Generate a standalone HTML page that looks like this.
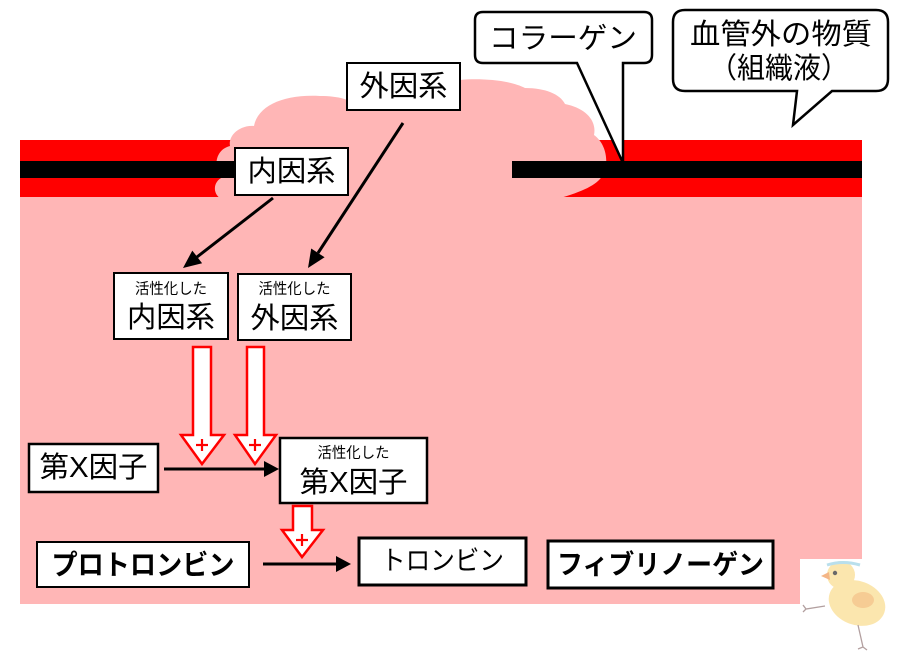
<!DOCTYPE html>
<html><head><meta charset="utf-8"><style>
html,body{margin:0;padding:0;background:#fff;width:900px;height:665px;overflow:hidden}
svg{display:block}
text{font-family:"Liberation Sans","Noto Sans CJK JP",sans-serif;fill:#000}
</style></head><body>
<svg width="900" height="665" viewBox="0 0 900 665" xmlns="http://www.w3.org/2000/svg">
<rect x="0" y="0" width="900" height="665" fill="#fff"/>
<!-- vessel walls -->
<rect x="20" y="140" width="215" height="57" fill="#ff0000"/>
<rect x="520" y="140" width="342" height="57" fill="#ff0000"/>
<!-- pink body -->
<rect x="20" y="197" width="842" height="407" fill="#ffb6b6"/>
<!-- cloud -->
<path fill="#ffb6b6" d="M228 201
C212 199, 211 182, 223 177
C213 170, 214 150, 230 146
C228 135, 240 125, 254 126
C258 105, 285 94, 320 96
C340 96, 350 100, 355 105
L355 80 L460 80
C480 78, 510 80, 525 88
C545 88, 560 94, 565 104
C585 108, 597 120, 594 135
C608 145, 610 168, 600 179
C592 188, 575 194, 550 201 Z"/>
<!-- black stripes -->
<rect x="20" y="161" width="220" height="17" fill="#000"/>
<rect x="512" y="161" width="350" height="17" fill="#000"/>

<!-- callouts -->
<path d="M483 12 H644 Q652 12 652 20 V55 Q652 63 644 63 H623 L623 163 L577 63 H483 Q475 63 475 55 V20 Q475 12 483 12 Z" fill="#fff" stroke="#000" stroke-width="2.5" stroke-linejoin="miter"/>
<text x="563" y="39" font-size="29" text-anchor="middle" dominant-baseline="central" textLength="148" lengthAdjust="spacingAndGlyphs">コラーゲン</text>
<path d="M685 10 H876 Q888 10 888 22 V79 Q888 91 876 91 H832 L793 125 L797 91 H685 Q673 91 673 79 V22 Q673 10 685 10 Z" fill="#fff" stroke="#000" stroke-width="2.5"/>
<text x="781" y="35" font-size="29" text-anchor="middle" dominant-baseline="central" textLength="182" lengthAdjust="spacingAndGlyphs">血管外の物質</text>
<text x="779" y="69" font-size="29" text-anchor="middle" dominant-baseline="central" textLength="140" lengthAdjust="spacingAndGlyphs">（組織液）</text>

<!-- 外因系 / 内因系 -->
<rect x="347" y="63" width="113" height="47" fill="#fff" stroke="#000" stroke-width="2"/>
<text x="403.5" y="87" font-size="29" text-anchor="middle" dominant-baseline="central" textLength="88" lengthAdjust="spacingAndGlyphs">外因系</text>
<rect x="235" y="148" width="113" height="47" fill="#fff" stroke="#000" stroke-width="2"/>
<text x="291.5" y="172" font-size="29" text-anchor="middle" dominant-baseline="central" textLength="88" lengthAdjust="spacingAndGlyphs">内因系</text>

<!-- diagonal arrows -->
<line x1="273" y1="198" x2="197" y2="257" stroke="#000" stroke-width="3"/>
<polygon points="183,268 202.1,263.2 192.3,250.6" fill="#000"/>
<line x1="403" y1="123" x2="318" y2="253" stroke="#000" stroke-width="3"/>
<polygon points="308,268 324.6,257.3 311.2,248.5" fill="#000"/>

<!-- activated boxes -->
<rect x="114" y="273" width="114" height="66" fill="#fff" stroke="#000" stroke-width="2"/>
<text x="171" y="289" font-size="15" text-anchor="middle" dominant-baseline="central" textLength="72" lengthAdjust="spacingAndGlyphs">活性化した</text>
<text x="171" y="318" font-size="29" text-anchor="middle" dominant-baseline="central" textLength="88" lengthAdjust="spacingAndGlyphs">内因系</text>
<rect x="238" y="274" width="113" height="66" fill="#fff" stroke="#000" stroke-width="2"/>
<text x="294.5" y="289" font-size="15" text-anchor="middle" dominant-baseline="central" textLength="72" lengthAdjust="spacingAndGlyphs">活性化した</text>
<text x="294.5" y="319" font-size="29" text-anchor="middle" dominant-baseline="central" textLength="88" lengthAdjust="spacingAndGlyphs">外因系</text>

<!-- 第X因子 -->
<rect x="29" y="444" width="129" height="48" fill="#fff" stroke="#000" stroke-width="2.5"/>
<text x="93.5" y="468" font-size="29" text-anchor="middle" dominant-baseline="central" textLength="108" lengthAdjust="spacingAndGlyphs">第X因子</text>
<line x1="164" y1="469" x2="266" y2="469" stroke="#000" stroke-width="3"/>
<polygon points="279,469 264,461 264,477" fill="#000"/>
<rect x="280" y="438" width="147" height="65" fill="#fff" stroke="#000" stroke-width="2.5"/>
<text x="353.5" y="453" font-size="15" text-anchor="middle" dominant-baseline="central" textLength="72" lengthAdjust="spacingAndGlyphs">活性化した</text>
<text x="353.5" y="483" font-size="29" text-anchor="middle" dominant-baseline="central" textLength="108" lengthAdjust="spacingAndGlyphs">第X因子</text>

<!-- hollow red arrows -->
<g fill="#fff" stroke="#ff0000" stroke-width="2.5" stroke-linejoin="miter">
<polygon points="193,347 211,347 211,435 224,435 202,464 181,435 193,435"/>
<polygon points="247,347 264,347 264,435 276,435 255,464 235,435 247,435"/>
<polygon points="293,506 312,506 312,530 323,530 302,557 282,530 293,530"/>
</g>
<g stroke="#ff0000" stroke-width="2.2">
<line x1="196" y1="445" x2="208" y2="445"/><line x1="202" y1="439" x2="202" y2="451"/>
<line x1="249" y1="445" x2="261" y2="445"/><line x1="255" y1="439" x2="255" y2="451"/>
<line x1="296" y1="540" x2="308" y2="540"/><line x1="302" y1="534" x2="302" y2="546"/>
</g>

<!-- bottom row -->
<rect x="37" y="542" width="212" height="45" fill="#fff" stroke="#000" stroke-width="2"/>
<text x="143" y="565" font-size="28" font-weight="bold" text-anchor="middle" dominant-baseline="central" textLength="183" lengthAdjust="spacingAndGlyphs">プロトロンビン</text>
<line x1="263" y1="564" x2="338" y2="564" stroke="#000" stroke-width="3"/>
<polygon points="351,564 336,556 336,572" fill="#000"/>
<rect x="359" y="538" width="167" height="47" fill="#fff" stroke="#000" stroke-width="3"/>
<text x="442.5" y="561" font-size="27" text-anchor="middle" dominant-baseline="central" textLength="123" lengthAdjust="spacingAndGlyphs">トロンビン</text>
<rect x="548" y="541" width="225" height="47" fill="#fff" stroke="#000" stroke-width="3"/>
<text x="660.5" y="565" font-size="27" font-weight="bold" text-anchor="middle" dominant-baseline="central" textLength="207" lengthAdjust="spacingAndGlyphs">フィブリノーゲン</text>

<!-- chick -->
<rect x="800" y="559" width="100" height="106" fill="#fff"/>
<g opacity="0.8">
<ellipse cx="857" cy="603" rx="29" ry="22" fill="#fbe09a" transform="rotate(20 857 603)"/>
<circle cx="841" cy="575" r="14" fill="#fbe09a"/>
<ellipse cx="863" cy="600" rx="11" ry="8" fill="#f5c07a"/>
<polygon points="829,572 821,576 830,580" fill="#f2a46a"/>
<circle cx="835" cy="573" r="2.2" fill="#444"/>
<path d="M827 565 Q843 560 860 565" stroke="#a8d8e8" stroke-width="3" fill="none"/>
<path d="M825 606 L806 609 L803 605 M806 609 L803 612" stroke="#a08888" stroke-width="1.3" fill="none"/>
<path d="M858 625 L863 647 L858 649 M863 647 L867 650" stroke="#a08888" stroke-width="1.3" fill="none"/>
</g>
</svg>
</body></html>
